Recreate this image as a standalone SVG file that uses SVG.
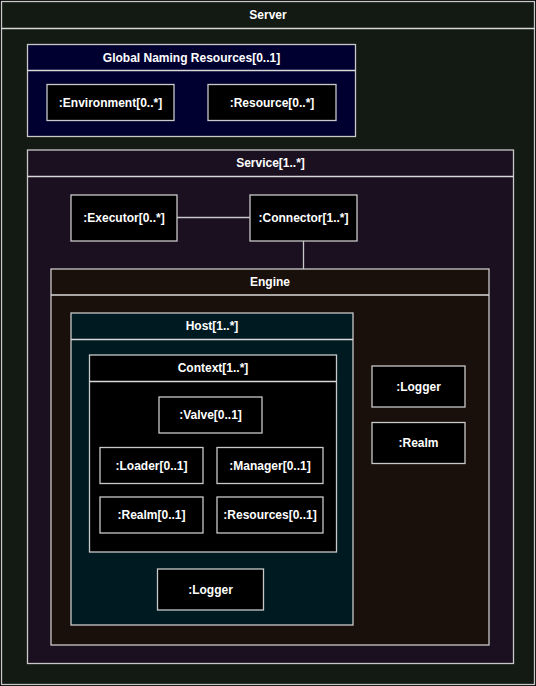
<svg xmlns="http://www.w3.org/2000/svg" width="536" height="686" viewBox="0 0 536 686">
<style>
text{font-family:"Liberation Sans",Arial,sans-serif;font-weight:bold;font-size:12px;fill:#ffffff;text-anchor:middle;dominant-baseline:central}
.c{stroke:#c8c8c8;stroke-width:1.3}
.b{fill:#000000;stroke:#c8c8c8;stroke-width:1.3}
.hl{stroke:#d8d8d8;stroke-width:1.3;fill:none}
.ln{stroke:#c8c8c8;stroke-width:1.3;fill:none}
</style>
<rect x="0" y="0" width="536" height="686" fill="#000"/>
<g id="server">
<rect class="c" x="1.5" y="1.5" width="533" height="683" fill="#131913" stroke="#9a9a9a"/>
<line class="hl" x1="1.5" y1="28.5" x2="534.5" y2="28.5"/>
<text x="268" y="14.5">Server</text>
</g>
<g id="global-naming">
<rect class="c" x="27.5" y="44.5" width="328" height="92" fill="#000030"/>
<line class="hl" x1="27.5" y1="70.5" x2="355.5" y2="70.5"/>
<text x="191.5" y="57.5">Global Naming Resources[0..1]</text>
</g>
<g id="environment"><rect class="b" x="47" y="84.5" width="127" height="36"/><text x="110.5" y="102.5">:Environment[0..*]</text></g>
<g id="resource"><rect class="b" x="208" y="84.5" width="128" height="36"/><text x="272" y="102.5">:Resource[0..*]</text></g>
<g id="service">
<rect class="c" x="27.5" y="150" width="486" height="513.5" fill="#1a1020"/>
<line class="hl" x1="27.5" y1="176.5" x2="513.5" y2="176.5"/>
<text x="270.5" y="163">Service[1..*]</text>
</g>
<g id="executor"><rect class="b" x="71" y="195" width="106" height="46"/><text x="124" y="218">:Executor[0..*]</text></g>
<g id="connector"><rect class="b" x="250" y="195" width="107" height="46"/><text x="303.5" y="218">:Connector[1..*]</text></g>
<g id="engine">
<rect class="c" x="51" y="269" width="438" height="376" fill="#1a100b"/>
<line class="hl" x1="51" y1="295" x2="489" y2="295"/>
<text x="270" y="282">Engine</text>
</g>
<g id="host">
<rect class="c" x="71" y="313" width="282" height="312" fill="#001a22"/>
<line class="hl" x1="71" y1="339.5" x2="353" y2="339.5"/>
<text x="212" y="326">Host[1..*]</text>
</g>
<g id="context">
<rect class="c" x="89.5" y="355" width="247" height="197" fill="#000000"/>
<line class="hl" x1="89.5" y1="381.5" x2="336.5" y2="381.5"/>
<text x="213" y="368">Context[1..*]</text>
</g>
<g id="valve"><rect class="b" x="159" y="397" width="103" height="36"/><text x="210.5" y="415">:Valve[0..1]</text></g>
<g id="loader"><rect class="b" x="100" y="447.5" width="103" height="36"/><text x="151.5" y="465.5">:Loader[0..1]</text></g>
<g id="manager"><rect class="b" x="217" y="447.5" width="106" height="36"/><text x="270" y="465.5">:Manager[0..1]</text></g>
<g id="context-realm"><rect class="b" x="100" y="497" width="103" height="36"/><text x="151.5" y="515">:Realm[0..1]</text></g>
<g id="resources"><rect class="b" x="217" y="497" width="106" height="36"/><text x="270" y="515">:Resources[0..1]</text></g>
<g id="host-logger"><rect class="b" x="157.5" y="569" width="106" height="41"/><text x="210.5" y="589.5">:Logger</text></g>
<g id="engine-logger"><rect class="b" x="372" y="366" width="93" height="41"/><text x="418.5" y="386.5">:Logger</text></g>
<g id="engine-realm"><rect class="b" x="372" y="422.5" width="93" height="41"/><text x="418.5" y="443">:Realm</text></g>
<g id="connectors">
<line class="ln" x1="177" y1="217.5" x2="250" y2="217.5"/>
<line class="ln" x1="303.5" y1="241" x2="303.5" y2="269"/>
</g>
</svg>
